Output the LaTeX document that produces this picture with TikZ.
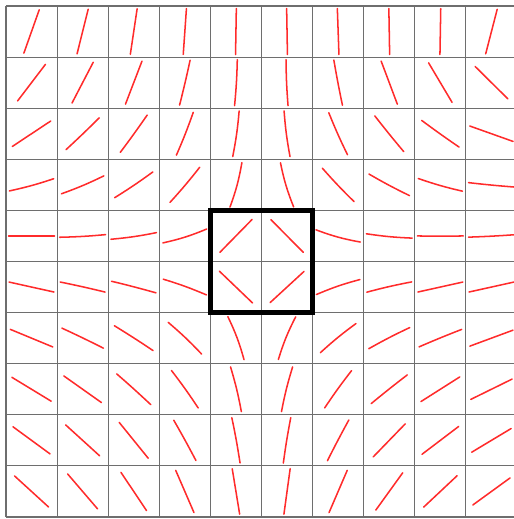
\documentclass[tikz,border=0pt]{standalone}
\usetikzlibrary{calc}
\definecolor{gridln}{HTML}{6E6E6E}
\definecolor{dirred}{HTML}{FF2B2B}
\tikzset{stick/.style={dirred,line width=0.85pt,line cap=round},
         frame/.style={black,line width=2.8pt}}
% one row of director sticks: #1 = row (0 at top), #2 = angle/bend per column
\newcommand{\sticks}[2]{%
  \foreach \a/\b [count=\c from 0] in {#2}{%
    \draw[stick] ($(\c+0.5,9.5-#1)+(\a+180:0.45)$)
      to[bend left=\b] ($(\c+0.5,9.5-#1)+(\a:0.45)$);}}

\begin{document}
\begin{tikzpicture}
  \useasboundingbox (-0.117,-0.039) rectangle (9.941,10.117);
  \clip (-0.117,-0.039) rectangle (9.941,10.117);
  \draw[gridln,line width=0.6pt] (0,0) grid (10,10);
  % director field
  \sticks{0}{70.5/0,76/0,81.5/0,86/0,89/0,91/0,92/0,91/0,89/0,75.5/0}
  \sticks{1}{52.7/0,62.5/0,69/0,76.8/-1,86.6/-2,92.5/2,100.8/1,110.6/0,120.7/0,135.3/0}
  \sticks{2}{33.5/0,43.8/-1,54.2/-1,68.5/-2,82/-3,97.4/3,114/2,129/1,144.5/1,160.4/0}
  \sticks{3}{15.4/-3,22.9/-3,34/-2,49.8/-2,75/-5,106.6/5,133.5/2,152/2,164/3,174.5/1}
  \sticks{4}{0/0,3.3/-2,8.3/-3,17.6/-5,45.6/0,134.7/0,164.6/5,174.6/3,180/1,183/1}
  \sticks{5}{167.5/0,167.4/-1,165.4/-1,160/-3,136.2/0,42.6/0,19/4,12.9/2,12.5/0,12.5/0}
  \sticks{6}{157.5/0,154.2/-1,147.3/-1,136.5/-3,110.6/-5,67.9/5,39.3/3,27.3/2,22.3/1,20.3/0}
  \sticks{7}{148.7/0,144.7/0,137.9/-1,125.5/-2,103.6/-3,76/3,54.2/2,38.5/1,32.4/0,26.2/0}
  \sticks{8}{143.8/0,137.7/0,129/0,118.8/-1,100.3/-1.5,80.7/1.5,62.3/1,45.9/0,37.2/0,31/0}
  \sticks{9}{137.6/0,130.6/0,123.8/0,113.4/0,99.3/0,82.2/0,66.7/0,54.2/0,43.2/0,36/0}
  % core
  \draw[frame] (4,4) rectangle (6,6);
\end{tikzpicture}
\end{document}
